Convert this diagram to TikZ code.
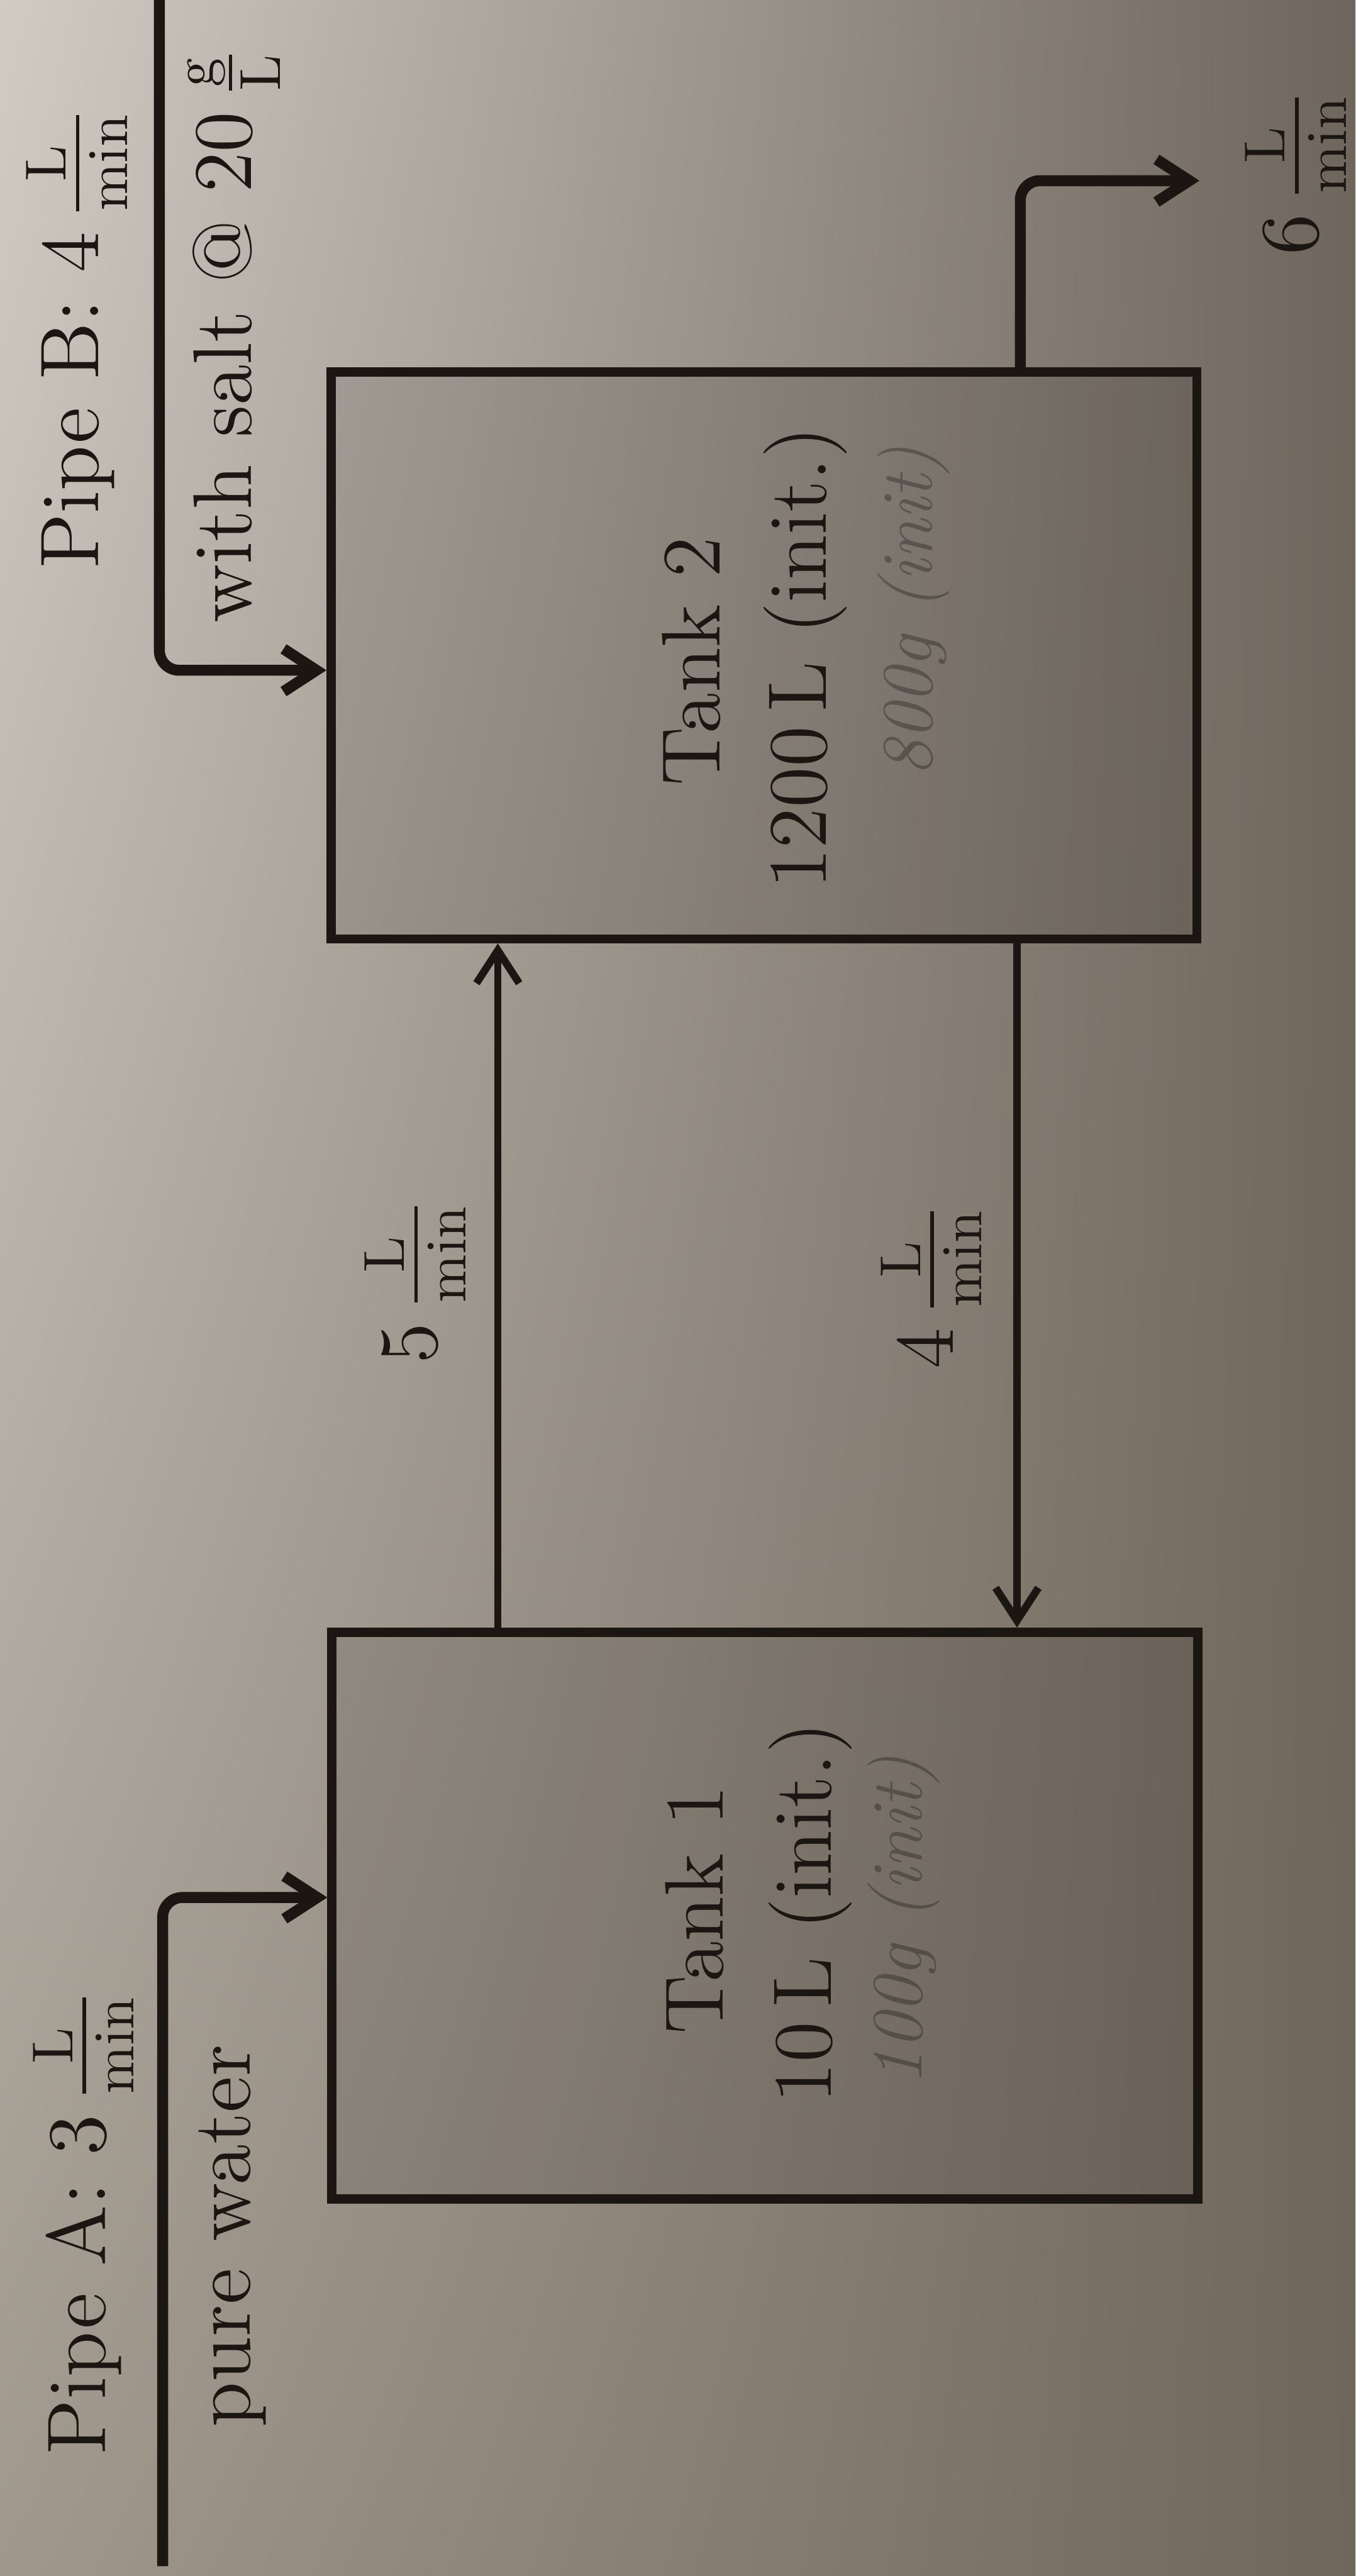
\documentclass[tikz,border=0pt]{standalone}
\usepackage{amsmath}
\usepackage{fontspec}
\usepackage{tikz}
\usetikzlibrary{arrows.meta, positioning, calc, shadings}
\usepackage{xcolor}
\definecolor{ink}{HTML}{1B1612}
\definecolor{pageUL}{RGB}{208,204,196}
\definecolor{pageUR}{RGB}{110,101,92}
\definecolor{pageLL}{RGB}{160,152,141}
\definecolor{pageLR}{RGB}{112,102,91}
\tikzset{
  tank/.style={rectangle, draw=ink, line width=1.6pt, fill=black, fill opacity=0.1,
               minimum width=5.27cm, minimum height=3.45cm, inner sep=0pt},
  pipe/.style={draw=ink, line width=1.9pt, rounded corners=1.2mm,
               -{Straight Barb[length=2mm, width=2.6mm]}},
  flow/.style={draw=ink, line width=1.3pt, -{Straight Barb[length=2mm, width=2.6mm]}},
  lbl/.style={rotate=90, anchor=base west, inner sep=0pt, text=ink,
              font=\fontsize{14.4}{17}\selectfont},
  note/.style={rotate=90, inner sep=0pt, text=black, text opacity=0.28,
               font=\fontsize{12.5}{15}\selectfont\itshape},
}

\begin{document}
\begin{tikzpicture}
    %% page (photo is turned: the text runs upwards)
    \useasboundingbox (0,0) rectangle (8.25,15.68);
    \shade[upper left=pageUL, upper right=pageUR, lower left=pageLL, lower right=pageLR]
      (0,0) rectangle (8.25,15.68);

    %% the two tanks
    \node[tank] (t1) at (4.655,4.02)  {};
    \node[tank] (t2) at (4.65,11.69) {};
    \node[lbl] (t1name) at (4.40,3.29)  {Tank 1};
    \node[lbl] (t1vol)  at (5.06,2.87)  {10\,L (init.)};
    \node[lbl] (t2name) at (4.38,10.89) {Tank 2};
    \node[lbl] (t2vol)  at (5.03,10.26) {1200\,L (init.)};
    % pencil notes
    \node[note] (t1note) at (5.50,3.99)  {100g (init)};
    \node[note] (t2note) at (5.56,11.96) {800g (init)};

    %% Pipe A: pure water into tank 1
    \coordinate (pa)     at (0.99,0.06);
    \coordinate (pabend) at (0.99,4.13);
    \draw[pipe] (pa) -- (pabend) -- (pabend -| t1.west);
    \node[lbl] (pipeA) at (0.64,0.73) {Pipe A: 3\,$\frac{\mathrm{L}}{\mathrm{min}}$};
    \node[lbl] (pure)  at (1.52,0.90) {pure water};

    %% Pipe B: salt water into tank 2
    \coordinate (pb)     at (0.97,15.75);
    \coordinate (pbbend) at (0.97,11.60);
    \draw[pipe] (pb) -- (pbbend) -- (pbbend -| t2.west);
    \node[lbl] (pipeB) at (0.60,12.21) {Pipe B: 4\,$\frac{\mathrm{L}}{\mathrm{min}}$};
    \node[lbl] (salt)  at (1.53,11.88) {with salt @ 20\,$\frac{\mathrm{g}}{\mathrm{L}}$};

    %% exchange between the tanks
    \coordinate (xfive) at (3.03,0);
    \coordinate (xfour) at (6.19,0);
    \draw[flow] (xfive |- t1.north) -- (xfive |- t2.south);
    \draw[flow] (xfour |- t2.south) -- (xfour |- t1.north);
    \node[lbl] (rfive) at (2.66,7.37) {5\,$\frac{\mathrm{L}}{\mathrm{min}}$};
    \node[lbl] (rfour) at (5.80,7.34) {4\,$\frac{\mathrm{L}}{\mathrm{min}}$};

    %% outflow of tank 2
    \coordinate (outbend) at (6.21,14.58);
    \coordinate (outend)  at (7.30,14.58);
    \draw[pipe] (outbend |- t2.north) -- (outbend) -- (outend);
    \node[lbl] (rsix) at (8.02,14.12) {6\,$\frac{\mathrm{L}}{\mathrm{min}}$};
\end{tikzpicture}
\end{document}
